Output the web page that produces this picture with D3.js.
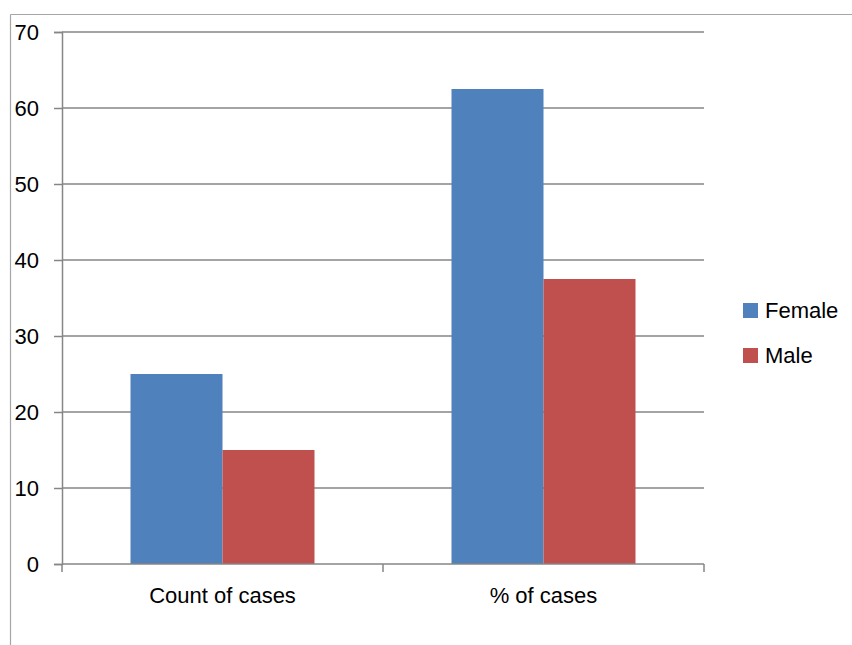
<!DOCTYPE html>
<html>
<head>
<meta charset="utf-8">
<script src="https://cdn.jsdelivr.net/npm/d3@7"></script>
<style>
  html, body { margin: 0; padding: 0; background: #fff; }
  svg { display: block; }
  text { font-family: "Liberation Sans", Arial, sans-serif; fill: #000; }
</style>
</head>
<body>
<svg id="chart" width="852" height="645"></svg>
<script>
// Chart data
const categories = ["Count of cases", "% of cases"];
const seriesNames = ["Female", "Male"];
const femaleValues = [25, 62.5];
const maleValues = [15, 37.5];
const yTicks = [0, 10, 20, 30, 40, 50, 60, 70];
const seriesColors = ["#4F81BD", "#C0504D"];

const seriesValues = [femaleValues, maleValues];
const rows = categories.map((c, i) => ({
  category: c,
  values: seriesNames.map((s, j) => ({ series: s, value: seriesValues[j][i], color: seriesColors[j] }))
}));

const svg = d3.select("#chart");

// Outer chart frame (top and left edges)
svg.append("line").attr("x1", 10.5).attr("x2", 852).attr("y1", 14.5).attr("y2", 14.5)
  .attr("stroke", "#a6a6a6").attr("stroke-width", 1.2);
svg.append("line").attr("x1", 10.5).attr("x2", 10.5).attr("y1", 14.5).attr("y2", 645)
  .attr("stroke", "#a6a6a6").attr("stroke-width", 1.2);

const plot = { left: 62, right: 704, top: 32, bottom: 564 };

const y = d3.scaleLinear().domain([0, 70]).range([plot.bottom, plot.top]);
const gap = 137 / 321;
const x0 = d3.scaleBand().domain(categories).range([plot.left, plot.right])
  .paddingInner(gap).paddingOuter(gap / 2);
const x1 = d3.scaleBand().domain(seriesNames).range([0, x0.bandwidth()]);

// Horizontal gridlines
svg.append("g")
  .selectAll("line")
  .data(yTicks.filter(t => t > 0))
  .join("line")
  .attr("x1", plot.left).attr("x2", plot.right)
  .attr("y1", d => y(d)).attr("y2", d => y(d))
  .attr("stroke", "#868686").attr("stroke-width", 1.5);

// Bars
svg.append("g")
  .selectAll("g")
  .data(rows)
  .join("g")
  .attr("transform", d => `translate(${x0(d.category)},0)`)
  .selectAll("rect")
  .data(d => d.values)
  .join("rect")
  .attr("x", d => x1(d.series))
  .attr("width", x1.bandwidth())
  .attr("y", d => y(d.value))
  .attr("height", d => y(0) - y(d.value))
  .attr("fill", d => d.color);

// Y axis
const yAxis = svg.append("g")
  .attr("transform", `translate(${plot.left},0)`)
  .call(d3.axisLeft(y).tickValues(yTicks).tickSize(8).tickPadding(15).tickFormat(d3.format("d")));
yAxis.select(".domain").attr("stroke", "#868686").attr("stroke-width", 1.5);
yAxis.selectAll(".tick line").attr("stroke", "#868686").attr("stroke-width", 1.5);
yAxis.selectAll(".tick text").attr("font-size", 22).attr("font-family", "Liberation Sans, Arial, sans-serif").attr("fill", "#000");

// X axis with category separators
const xAxisG = svg.append("g").attr("transform", `translate(0,${plot.bottom})`);
xAxisG.append("line").attr("x1", plot.left).attr("x2", plot.right)
  .attr("stroke", "#868686").attr("stroke-width", 1.5);
const step = x0.step();
const sepTicks = d3.range(categories.length + 1).map(i => plot.left + i * step);
xAxisG.selectAll(".sep")
  .data(sepTicks)
  .join("line")
  .attr("class", "sep")
  .attr("x1", d => d).attr("x2", d => d)
  .attr("y1", 0).attr("y2", 8)
  .attr("stroke", "#868686").attr("stroke-width", 1.5);
xAxisG.selectAll(".cat")
  .data(categories)
  .join("text")
  .attr("class", "cat")
  .attr("x", d => x0(d) + x0.bandwidth() / 2)
  .attr("y", 39)
  .attr("text-anchor", "middle")
  .attr("font-size", 22)
  .text(d => d);

// Legend
const legend = svg.append("g").attr("transform", "translate(743,303)");
const items = legend.selectAll("g")
  .data(seriesNames)
  .join("g")
  .attr("transform", (d, i) => `translate(0,${i * 45})`);
items.append("rect").attr("width", 15).attr("height", 15)
  .attr("fill", (d, i) => seriesColors[i]);
items.append("text").attr("x", 22).attr("y", 15)
  .attr("font-size", 22)
  .text(d => d);
</script>
</body>
</html>
